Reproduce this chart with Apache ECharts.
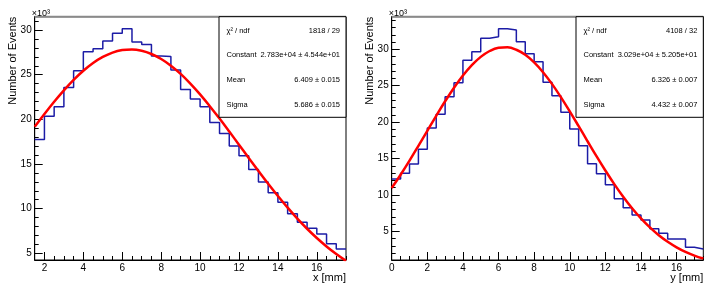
<!DOCTYPE html>
<html><head><meta charset="utf-8">
<script src="https://cdn.jsdelivr.net/npm/echarts@6/dist/echarts.min.js"></script>
<style>html,body{margin:0;padding:0;background:#fff}#c{width:714px;height:292px}</style>
</head><body><div id="c"></div>
<script>
// ---- data (counts per 0.5 mm bin) ----
const xEdgesLeft = [1.5,2,2.5,3,3.5,4,4.5,5,5.5,6,6.5,7,7.5,8,8.5,9,9.5,10,10.5,11,11.5,12,12.5,13,13.5,14,14.5,15,15.5,16,16.5,17,17.5];
const countsLeft = [17760,20340,21420,23580,25450,27570,27910,28770,29660,30150,28660,28400,27090,27050,25520,23360,22280,21420,19660,18430,17030,15930,14400,13000,11790,10710,9440,8470,7800,7160,6080,5480];
const fitLeft = [19170,20600,21970,23250,24420,25440,26310,26990,27480,27760,27830,27680,27320,26760,26010,25090,24010,22800,21480,20090,18640,17160,15680,14220,12790,11420,10110,8890,7750,6710,5760,4910,4150];

const xEdgesRight = [0,0.5,1,1.5,2,2.5,3,3.5,4,4.5,5,5.5,6,6.5,7,7.5,8,8.5,9,9.5,10,10.5,11,11.5,12,12.5,13,13.5,14,14.5,15,15.5,16,16.5,17,17.5];
const countsRight = [12180,12970,14240,16260,19190,21070,23490,25410,28490,29670,31510,31730,32830,32650,31040,29400,28300,25470,23630,21350,19050,16760,14290,12910,11400,9480,8240,7240,6550,5360,4730,3940,3940,2800,2570];
const fitRight = [10940,12770,14710,16740,18810,20870,22860,24720,26390,27820,28960,29770,30210,30270,29940,29250,28210,26860,25250,23440,21480,19440,17370,15320,13350,11480,9750,8170,6770,5530,4460,3560,2800,2170,1670,1260];

const xTicksLeft = [2,4,6,8,10,12,14,16];
const xTicksRight = [0,2,4,6,8,10,12,14,16];
const yTicks = [5000,10000,15000,20000,25000,30000];

const statLabels = ['χ² / ndf','Constant','Mean','Sigma'];
const statLeft = ['1818 / 29','2.783e+04 ± 4.544e+01','6.409 ± 0.015','5.686 ± 0.015'];
const statRight = ['4108 / 32','3.029e+04 ± 5.205e+01','6.326 ± 0.007','4.432 ± 0.007'];

const yTitle = 'Number of Events';
const xTitleLeft = 'x [mm]';
const xTitleRight = 'y [mm]';
const scaleLabel = '×10³';

// ---- layout ----
const FONT = '"Liberation Sans", Arial, sans-serif';
function range(a, b, s) { const r = []; for (let v = a; v <= b + 1e-9; v += s) r.push(v); return r; }

const panels = [
  { g: {left: 34.7, top: 16.7, width: 311.3, height: 243.3}, xmin: 1.5, xmax: 17.5, ymin: 4250, ymax: 31500,
    edges: xEdgesLeft, counts: countsLeft, fit: fitLeft, xTicks: xTicksLeft, yMinor: range(5000, 31000, 1000),
    xTitle: xTitleLeft, stat: statLeft, boxLeft: 219 },
  { g: {left: 391.7, top: 16.7, width: 311.6, height: 243.3}, xmin: 0, xmax: 17.5, ymin: 1060, ymax: 34480,
    edges: xEdgesRight, counts: countsRight, fit: fitRight, xTicks: xTicksRight, yMinor: range(2000, 34000, 1000),
    xTitle: xTitleRight, stat: statRight, boxLeft: 576 }
];

const grid = [], xAxis = [], yAxis = [], series = [], graphic = [];
panels.forEach((p, i) => {
  grid.push({ left: p.g.left, top: p.g.top, width: p.g.width, height: p.g.height, containLabel: false,
    outerBoundsMode: 'none', show: true, borderColor: '#000', borderWidth: 1, backgroundColor: 'transparent' });
  const xi = xAxis.length, yi = yAxis.length;
  const lbl = { fontSize: 10, color: '#000', fontFamily: FONT };
  xAxis.push({ gridIndex: i, type: 'value', min: p.xmin, max: p.xmax, position: 'bottom',
    axisLine: { show: true, lineStyle: { color: '#000', width: 1 } },
    axisTick: { show: true, inside: true, length: 8, customValues: p.xTicks, lineStyle: { color: '#000', width: 1 } },
    axisLabel: Object.assign({ show: true, customValues: p.xTicks, margin: 3, showMinLabel: true, showMaxLabel: true }, lbl),
    splitLine: { show: false } });
  xAxis.push({ gridIndex: i, type: 'value', min: p.xmin, max: p.xmax, position: 'bottom',
    axisLine: { show: false },
    axisTick: { show: true, inside: true, length: 4, customValues: p.edges, lineStyle: { color: '#000', width: 1 } },
    axisLabel: { show: false }, splitLine: { show: false } });
  yAxis.push({ gridIndex: i, type: 'value', min: p.ymin, max: p.ymax, position: 'left',
    axisLine: { show: true, lineStyle: { color: '#000', width: 1 } },
    axisTick: { show: true, inside: true, length: 8, customValues: yTicks, lineStyle: { color: '#000', width: 1 } },
    axisLabel: Object.assign({ show: true, customValues: yTicks, margin: 3, formatter: v => String(Math.round(v / 1000)) }, lbl),
    splitLine: { show: false } });
  yAxis.push({ gridIndex: i, type: 'value', min: p.ymin, max: p.ymax, position: 'left',
    axisLine: { show: false },
    axisTick: { show: true, inside: true, length: 4, customValues: p.yMinor, lineStyle: { color: '#000', width: 1 } },
    axisLabel: { show: false }, splitLine: { show: false } });

  const hist = p.counts.map((c, k) => [p.edges[k], c]);
  hist.push([p.edges[p.counts.length], p.counts[p.counts.length - 1]]);
  series.push({ type: 'line', xAxisIndex: xi, yAxisIndex: yi, data: hist, step: 'end', showSymbol: false, symbol: 'none',
    lineStyle: { color: '#1c1ca6', width: 1.5 }, clip: true, animation: false, z: 3 });
  series.push({ type: 'line', xAxisIndex: xi, yAxisIndex: yi, data: p.fit.map((f, k) => [p.edges[k], f]), smooth: 0.4,
    showSymbol: false, symbol: 'none', lineStyle: { color: '#ff0000', width: 2.5 }, clip: true, animation: false, z: 4 });

  const L = p.g.left, T = p.g.top, R = p.g.left + p.g.width, B = p.g.top + p.g.height;
  graphic.push({ type: 'line', z: 90, shape: { x1: L, y1: T, x2: R, y2: T }, style: { stroke: '#8a8a8a', lineWidth: 2 } });
  graphic.push({ type: 'text', z: 90, x: L - 21.5, y: T, rotation: Math.PI / 2,
    style: { text: yTitle, font: '11px ' + FONT, fill: '#000', align: 'right', verticalAlign: 'middle' } });
  graphic.push({ type: 'text', z: 90, x: R, y: B + 17.5,
    style: { text: p.xTitle, font: '11px ' + FONT, fill: '#000', align: 'right', verticalAlign: 'middle' } });
  graphic.push({ type: 'text', z: 90, x: L - 3, y: T - 3.5,
    style: { text: scaleLabel, font: '9px ' + FONT, fill: '#000', align: 'left', verticalAlign: 'middle' } });
  // stat box
  const bT = T, bB = 117.3;
  graphic.push({ type: 'rect', z: 95, shape: { x: p.boxLeft, y: bT, width: R - p.boxLeft, height: bB - bT },
    style: { fill: '#fff', stroke: '#000', lineWidth: 1 } });
  const rowsY = [30.7, 55, 80, 104.7];
  statLabels.forEach((s, k) => {
    graphic.push({ type: 'text', z: 96, x: p.boxLeft + 7.5, y: rowsY[k],
      style: { text: s, font: '7.5px ' + FONT, fill: '#000', align: 'left', verticalAlign: 'middle' } });
    graphic.push({ type: 'text', z: 96, x: R - 6, y: rowsY[k],
      style: { text: p.stat[k], font: '7.5px ' + FONT, fill: '#000', align: 'right', verticalAlign: 'middle' } });
  });
});

const chart = echarts.init(document.getElementById('c'), null, { renderer: 'canvas' });
chart.setOption({ animation: false, backgroundColor: '#fff', grid, xAxis, yAxis, series, graphic });
</script></body></html>
